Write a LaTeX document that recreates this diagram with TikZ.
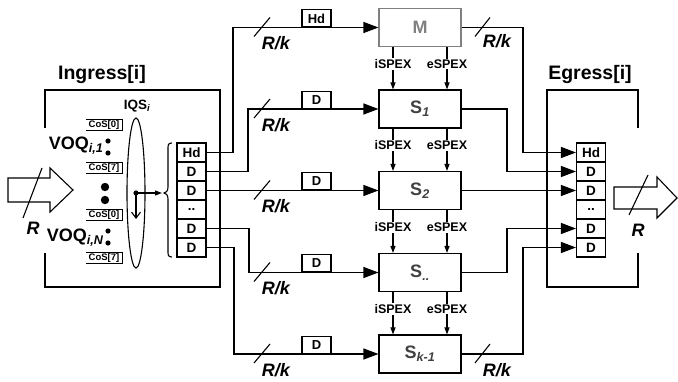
\documentclass[tikz,border=0pt]{standalone}
\usepackage{fontspec}
\setmainfont{Liberation Sans}
\usetikzlibrary{arrows.meta}
\definecolor{boxtext}{HTML}{404040}
\definecolor{mgray}{HTML}{808080}
\begin{document}
\begin{tikzpicture}[x=1pt,y=-1pt,line width=1.1pt,
  blk/.style={draw,minimum width=82pt,minimum height=38pt,inner sep=0pt,text=boxtext,font=\bfseries\fontsize{18}{18}\selectfont},
  cell/.style={draw,minimum width=29pt,minimum height=19pt,inner sep=0pt,font=\bfseries\fontsize{13.5}{13.5}\selectfont},
  tag/.style={draw,minimum width=29pt,minimum height=17pt,inner sep=0pt,anchor=south,font=\bfseries\fontsize{13}{13}\selectfont},
  rk/.style={font=\bfseries\itshape\fontsize{18}{18}\selectfont},
  spex/.style={fill=white,inner sep=1pt,font=\bfseries\fontsize{12.5}{12.5}\selectfont},
  cos/.style={inner sep=0pt,font=\bfseries\fontsize{9.5}{9.5}\selectfont},
  voq/.style={anchor=east,inner sep=0pt,font=\bfseries\fontsize{18}{18}\selectfont},
  ttl/.style={font=\bfseries\fontsize{19.5}{19.5}\selectfont},
  big/.style={-{Triangle[length=15pt,width=11pt]}},
  small/.style={-{Triangle[length=7pt,width=5pt]}},
  slash/.style={line width=1.1pt}
]
\useasboundingbox (0,0) rectangle (678,382);

% ---------- Ingress ----------
\node[ttl] (ingt) at (102,75) {Ingress[i]};
\draw (45,128) -- (45,90) -- (220,90) -- (220,287) -- (45,287) -- (45,253);
\draw (8,178) -- (50,178) -- (50,168) -- (73,190) -- (50,212) -- (50,202) -- (8,202) -- cycle;
\draw[slash] (23,218) -- (42,168);
\node[rk] (rin) at (33,228) {R};

% CoS labels
\foreach \y/\t/\n in {125/0/a,168/7/b,215/0/c,258/7/d}{
  \draw[line width=0.8pt] (86,\y-5.5) -- (122,\y-5.5) -- (122,\y+5.5) -- (86,\y+5.5);
  \node[cos] (cos\n) at (104,\y) {CoS[\t]};
}
\node[voq] (voq1) at (104,146) {VOQ\textsubscript{\itshape i,1}};
\node[voq] (voqn) at (104,238) {VOQ\textsubscript{\itshape i,N}};
\fill (108,141) circle (2.6) (108,153) circle (2.6) (108,231) circle (2.6) (108,243) circle (2.6);
\fill (105,187) circle (4.2) (105,200) circle (4.2);

% IQS ellipse
\node[font=\bfseries\fontsize{13.5}{13.5}\selectfont] (iqs) at (137,106) {IQS\textsubscript{\itshape i}};
\draw (136,193) ellipse [x radius=9, y radius=75];
\coordinate (iqsc) at (136,193);
\coordinate (iqsd) at (136,219);
\coordinate (brt) at (162,193);
\fill (iqsc) circle (2.6);
\draw[-{Straight Barb[length=6pt,width=9pt]}] (iqsc) -- (iqsd);
\draw[small] (iqsc) -- (brt);
\draw (172,143) .. controls (168,143) and (168,145) .. (168,149) -- (168,187)
  .. controls (168,191) and (166,193) .. (164,193)
  .. controls (166,193) and (168,195) .. (168,199) -- (168,251)
  .. controls (168,255) and (168,257) .. (172,257);

% cells
\foreach \i/\t/\y in {1/Hd/152.5,2/D/171.5,3/D/190.5,4/{..}/209.5,5/D/228.5,6/D/247.5}{
  \node[cell] (in\i) at (191.5,\y) {\t};
  \node[cell] (out\i) at (591,\y) {\t};
}

% ---------- Middle ----------
\node[blk,draw=mgray,text=mgray] (M) at (420,27.5) {M};
\node[blk] (S1) at (420,109) {S\textsubscript{\itshape 1}};
\node[blk] (S2) at (420,190.5) {S\textsubscript{\itshape 2}};
\node[blk] (Sd) at (420,272.5) {S\textsubscript{\itshape ..}};
\node[blk] (Sk) at (420,354) {S\textsubscript{\itshape k-1}};

\foreach \a/\b in {M/S1,S1/S2,S2/Sd,Sd/Sk}{
  \draw[small] ([xshift=-27pt]\a.south) -- node[spex,pos=0.4] {iSPEX} ([xshift=-27pt]\b.north);
  \draw[small] ([xshift=27pt]\a.south) -- node[spex,pos=0.4] {eSPEX} ([xshift=27pt]\b.north);
}

% inputs
\draw[big] (in1.east) -- (233,152.5) -- (233,27.5) -- (M.west);
\draw[big] (in2.east) -- (248,171.5) -- (248,109) -- (S1.west);
\draw[big] (in3.east) -- (S2.west);
\draw[big] (in5.east) -- (249,228.5) -- (249,272.5) -- (Sd.west);
\draw[big] (in6.east) -- (234,247.5) -- (234,354) -- (Sk.west);

\node[tag] (tM) at (316.5,27.5) {Hd};
\node[tag] (t1) at (316.5,109) {D};
\node[tag] (t2) at (316.5,190.5) {D};
\node[tag] (t3) at (316.5,272.5) {D};
\node[tag] (t4) at (316.5,354) {D};

\foreach \y/\n in {27.5/a,109/b,190.5/c,272.5/d,354/e}{
  \draw[slash] (254,\y+9) -- (270,\y-10);
  \node[rk] (rk\n) at (276,\y+16) {R/k};
}
\draw[slash] (475,36.5) -- (490,17.5);
\node[rk] (rko1) at (497,41) {R/k};
\draw[slash] (475,363) -- (490,344);
\node[rk] (rko2) at (497,370) {R/k};

% outputs
\draw[big] (M.east) -- (523,27.5) -- (523,152.5) -- (out1.west);
\draw[big] (S1.east) -- (507,109) -- (507,171.5) -- (out2.west);
\draw[big] (S2.east) -- (out3.west);
\draw[big] (Sd.east) -- (507,272.5) -- (507,228.5) -- (out5.west);
\draw[big] (Sk.east) -- (523,354) -- (523,247.5) -- (out6.west);

% ---------- Egress ----------
\node[ttl] (egt) at (590,75) {Egress[i]};
\draw (638,128) -- (638,90) -- (547,90) -- (547,287) -- (638,287) -- (638,253);
\draw (614,187) -- (657,187) -- (657,177) -- (677,198) -- (657,218) -- (657,209) -- (614,209) -- cycle;
\draw[slash] (629,215) -- (648,175);
\node[rk] (rout) at (638,230) {R};
\end{tikzpicture}
\end{document}
